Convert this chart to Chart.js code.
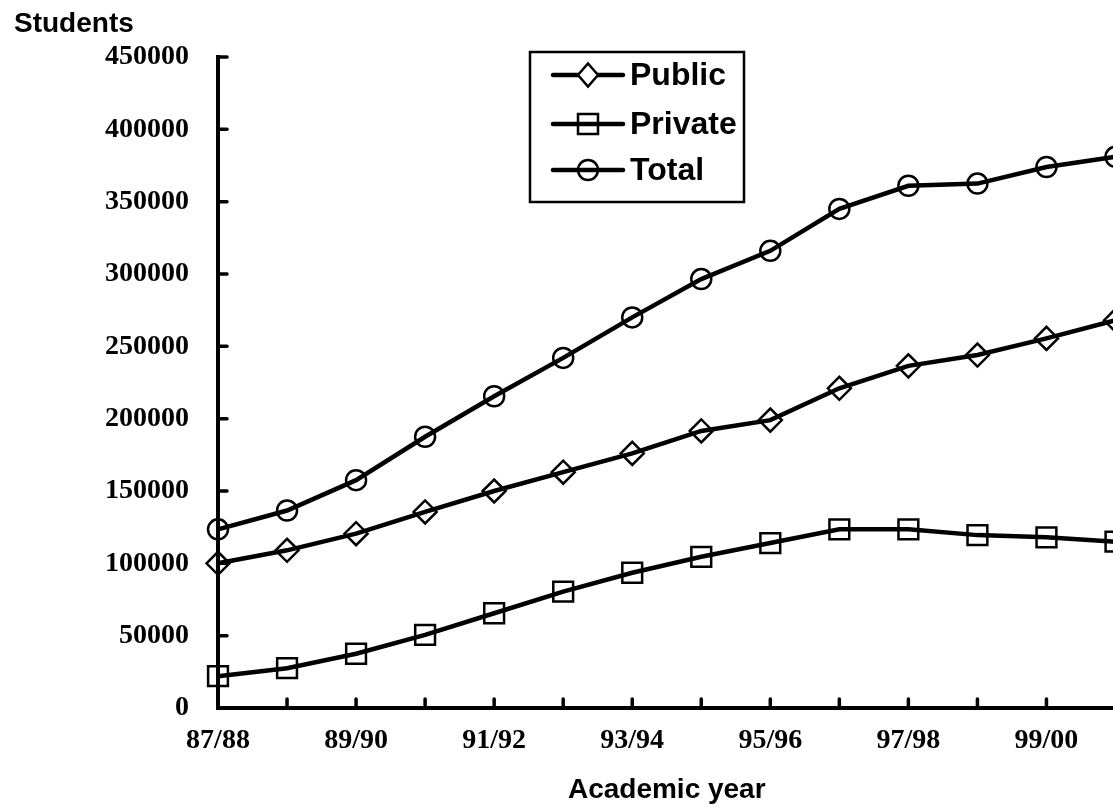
<!DOCTYPE html>
<html>
<head>
<meta charset="utf-8">
<script src="https://cdn.jsdelivr.net/npm/chart.js@4/dist/chart.umd.min.js"></script>
<style>
  html, body { margin: 0; padding: 0; background: #fff; overflow: hidden; }
</style>
</head>
<body>
<canvas id="chart1" width="1132" height="810"></canvas>
<script>
// chart data
const categories = ['87/88', '88/89', '89/90', '90/91', '91/92', '92/93', '93/94',
                    '94/95', '95/96', '96/97', '97/98', '98/99', '99/00', '00/01'];
const publicValues = [100000, 109000, 120500, 135500, 150000, 163000, 176000,
                      191500, 199000, 221000, 236500, 244000, 255500, 268000];
const privateValues = [22000, 27500, 37500, 50500, 65500, 80500, 93500,
                       104500, 114000, 123500, 123500, 119500, 118000, 115000];
const totalValues = [123500, 136500, 157500, 187500, 215500, 242000, 270000,
                     296500, 316000, 345000, 361000, 362500, 374000, 381000];
const seriesNames = ['Public', 'Private', 'Total'];

const serifBold = { family: "'Liberation Serif', 'Times New Roman', serif", size: 28, weight: 'bold' };
const sansBold = "bold 28px 'Liberation Sans', Arial, sans-serif";

// draw one marker shape
function drawMarker(ctx, style, x, y, fill) {
    ctx.beginPath();
    if (style === 'circle') {
        ctx.arc(x, y, 10, 0, Math.PI * 2);
    } else if (style === 'rect') {
        ctx.rect(x - 10, y - 10, 20, 20);
    } else {
        ctx.moveTo(x, y - 11.5);
        ctx.lineTo(x + 10, y);
        ctx.lineTo(x, y + 11.5);
        ctx.lineTo(x - 10, y);
        ctx.closePath();
    }
    if (fill) {
        ctx.fillStyle = fill;
        ctx.fill();
    }
    ctx.lineWidth = 2.5;
    ctx.strokeStyle = '#000';
    ctx.stroke();
}

// inward tick marks, the "Students" label and the boxed legend
const extras = {
    id: 'extras',
    afterDraw(chart) {
        const ctx = chart.ctx;
        const x = chart.scales.x;
        const y = chart.scales.y;
        const area = chart.chartArea;
        ctx.save();
        ctx.strokeStyle = '#000';
        ctx.lineWidth = 3.5;
        ctx.lineCap = 'round';
        x.ticks.forEach((t, i) => {
            const px = x.getPixelForTick(i);
            ctx.beginPath();
            ctx.moveTo(px, area.bottom);
            ctx.lineTo(px, area.bottom - 9);
            ctx.stroke();
        });
        y.ticks.forEach((t, i) => {
            const py = y.getPixelForTick(i);
            ctx.beginPath();
            ctx.moveTo(area.left, py);
            ctx.lineTo(area.left + 9, py);
            ctx.stroke();
        });

        ctx.fillStyle = '#000';
        ctx.font = sansBold;
        ctx.textAlign = 'left';
        ctx.textBaseline = 'alphabetic';
        ctx.fillText('Students', 14, 32);

        // legend
        ctx.lineCap = 'butt';
        ctx.lineWidth = 2.5;
        ctx.strokeRect(530, 52, 214, 150);
        const rows = [75, 124, 170];
        const styles = ['rectRot', 'rect', 'circle'];
        ctx.font = "bold 32px 'Liberation Sans', Arial, sans-serif";
        ctx.textBaseline = 'middle';
        rows.forEach((ry, i) => {
            ctx.lineWidth = 4.5;
            ctx.lineCap = 'round';
            ctx.beginPath();
            ctx.moveTo(553, ry);
            ctx.lineTo(623, ry);
            ctx.stroke();
            drawMarker(ctx, styles[i], 588, ry, i === 0 ? '#fff' : null);
            ctx.fillStyle = '#000';
            ctx.fillText(seriesNames[i], 630, ry + 1);
        });
        ctx.restore();
    }
};

function makeDataset(label, data, style, radius) {
    return {
        label: label,
        data: data,
        borderColor: '#000',
        borderWidth: 4.5,
        tension: 0,
        pointStyle: style,
        pointRadius: radius,
        pointHoverRadius: radius,
        pointBorderWidth: 2.5,
        pointBorderColor: '#000',
        pointBackgroundColor: 'rgba(0,0,0,0)',
        clip: false
    };
}

const ctx = document.getElementById('chart1').getContext('2d');
new Chart(ctx, {
    type: 'line',
    data: {
        labels: categories,
        datasets: [
            makeDataset(seriesNames[0], publicValues, 'rectRot', 11.5),
            makeDataset(seriesNames[1], privateValues, 'rect', 14),
            makeDataset(seriesNames[2], totalValues, 'circle', 10)
        ]
    },
    options: {
        responsive: false,
        animation: false,
        devicePixelRatio: 1,
        layout: { padding: { top: 57, right: 2, left: 0, bottom: 0 } },
        plugins: {
            legend: { display: false },
            tooltip: { enabled: false }
        },
        scales: {
            x: {
                offset: false,
                grid: { display: true, drawOnChartArea: false, drawTicks: false },
                border: { display: true, color: '#000', width: 4 },
                ticks: {
                    autoSkip: false,
                    maxRotation: 0,
                    padding: 16,
                    color: '#000',
                    font: serifBold,
                    callback: (val, i) => i % 2 === 0 ? categories[i] : ''
                },
                title: {
                    display: true,
                    text: 'Academic year',
                    color: '#000',
                    font: { family: "'Liberation Sans', Arial, sans-serif", size: 28, weight: 'bold' },
                    padding: { top: 0, bottom: 3 }
                },
                afterFit: scale => {
                    scale.height = 102;
                    scale.paddingLeft = 0;
                    scale.paddingRight = 0;
                }
            },
            y: {
                min: 0,
                max: 450000,
                grid: { display: true, drawOnChartArea: false, drawTicks: false },
                border: { display: true, color: '#000', width: 4 },
                ticks: {
                    stepSize: 50000,
                    padding: 29,
                    color: '#000',
                    font: serifBold,
                    callback: v => String(v)
                },
                afterFit: scale => { scale.width = 218; }
            }
        }
    },
    plugins: [extras]
});
</script>
</body>
</html>
